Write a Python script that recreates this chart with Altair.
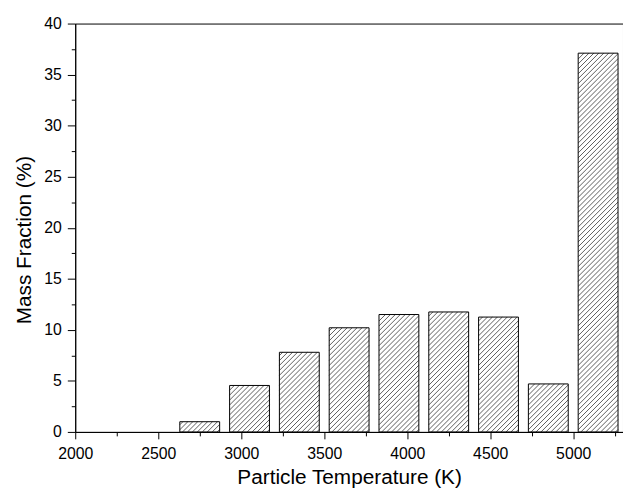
import altair as alt
import pandas as pd

# Histogram bins (K) and mass fraction (%)
bin_start = [2000, 2300, 2600, 2900, 3200, 3500, 3800, 4100, 4400, 4700, 5000]
bin_end = [2300, 2600, 2900, 3200, 3500, 3800, 4100, 4400, 4700, 5000, 5300]
mass_fraction = [0.0, 0.0, 1.0, 4.55, 7.8, 10.2, 11.5, 11.75, 11.25, 4.7, 37.1]

x_ticks = list(range(2000, 5301, 250))
y_ticks = [i * 2.5 for i in range(17)]

df = pd.DataFrame({"start": bin_start, "end": bin_end, "value": mass_fraction})

FONT = "Liberation Sans"
W_PX, H_PX = 554, 413
X_DOM, Y_DOM = [2000, 5300], [0, 40]
SX = W_PX / (X_DOM[1] - X_DOM[0])   # px per K
SY = H_PX / (Y_DOM[1] - Y_DOM[0])   # px per %
D = 5.0                              # hatch spacing in px

xscale = alt.Scale(domain=X_DOM, nice=False, zero=False)
yscale = alt.Scale(domain=Y_DOM, nice=False)

base = (
    alt.Chart(df)
    .transform_filter("datum.value > 0")
    .transform_calculate(
        x0="datum.start + 0.1 * (datum.end - datum.start)",
        x1="datum.end - 0.1 * (datum.end - datum.start)",
    )
)

x_axis = alt.Axis(
    title="Particle Temperature (K)",
    values=x_ticks,
    labelExpr="datum.value % 500 === 0 ? datum.label : ''",
    format="d",
    tickSize={"condition": {"test": "datum.value % 500 === 0", "value": 7}, "value": 4},
    labelPadding=7,
    titleY=52.5,
    titleBaseline="alphabetic",
    labelFlush=False,
    labelOverlap=False,
)
y_axis = alt.Axis(
    title="Mass Fraction (%)",
    values=y_ticks,
    labelExpr="datum.value % 5 === 0 ? datum.label : ''",
    tickSize={"condition": {"test": "datum.value % 5 === 0", "value": 8}, "value": 4},
    labelPadding=6,
    titleX=-45,
    titleY=218.5,
    titleBaseline="alphabetic",
    labelFlush=False,
    labelOverlap=False,
)

fill_layer = base.mark_bar(fill="#ffffff", strokeWidth=0).encode(
    x=alt.X("x0:Q", scale=xscale, axis=x_axis),
    x2="x1:Q",
    y=alt.Y("value:Q", scale=yscale, axis=y_axis),
    y2=alt.datum(0),
)

hatch = (
    base.transform_calculate(
        W=f"(datum.x1 - datum.x0) * {SX}",
        Hp=f"datum.value * {SY}",
    )
    .transform_calculate(k=f"sequence(0, floor((datum.W + datum.Hp) / {D}))")
    .transform_flatten(["k"])
    .transform_calculate(c=f"-datum.W + datum.k * {D} + {D / 2}")
    .transform_calculate(
        u0="datum.c >= 0 ? 0 : -datum.c",
        v0="datum.c >= 0 ? datum.c : 0",
        u1="datum.c + datum.W <= datum.Hp ? datum.W : datum.Hp - datum.c",
        v1="datum.c + datum.W <= datum.Hp ? datum.c + datum.W : datum.Hp",
    )
    .transform_calculate(
        xa=f"datum.x0 + datum.u0 / {SX}",
        ya=f"datum.v0 / {SY}",
        xb=f"datum.x0 + datum.u1 / {SX}",
        yb=f"datum.v1 / {SY}",
    )
    .mark_rule(color="#4a4a4a", strokeWidth=0.9)
    .encode(
        x=alt.X("xa:Q", scale=xscale, axis=x_axis),
        y=alt.Y("ya:Q", scale=yscale, axis=y_axis),
        x2="xb:Q",
        y2="yb:Q",
    )
)

outline = base.mark_bar(fill="transparent", stroke="#000000", strokeWidth=1).encode(
    x=alt.X("x0:Q", scale=xscale, axis=x_axis),
    x2="x1:Q",
    y=alt.Y("value:Q", scale=yscale, axis=y_axis),
    y2=alt.datum(0),
)

chart = (
    alt.layer(fill_layer, hatch, outline)
    .properties(
        width=W_PX,
        height=H_PX,
        autosize=alt.AutoSizeParams(type="none"),
        padding={"left": 68, "top": 13, "right": 0, "bottom": 56},
    )
    .configure_view(stroke="#000000", strokeWidth=1)
    .configure_axis(
        grid=False,
        domainColor="#000000",
        domainWidth=1,
        tickColor="#000000",
        tickWidth=1,
        labelFont=FONT,
        labelFontSize=16,
        labelColor="#000000",
        titleFont=FONT,
        titleFontSize=21,
        titleFontWeight="normal",
        titleColor="#000000",
    )
)

chart.save("out.html", embed_options={"renderer": "svg", "actions": False})
